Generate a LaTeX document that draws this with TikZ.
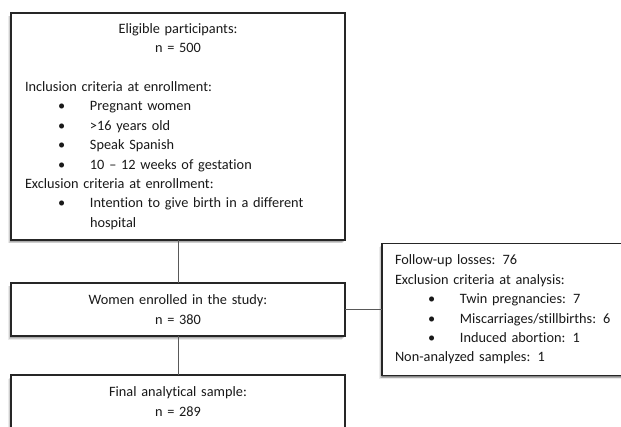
\documentclass[tikz,border=0pt]{standalone}
\usepackage{fontspec}
\setmainfont{Carlito}[Ligatures=NoCommon]
\usetikzlibrary{positioning,shadows}
\newcommand{\bulitem}[1]{\hspace*{33pt}\makebox[32pt][l]{\textbullet}#1}
\newcommand{\midline}[1]{\makebox[\linewidth][c]{#1}}
\tikzset{
    flow box/.style = {
        draw = black!85,
        line width = 1.5pt,
        fill = white,
        outer sep = 0pt,
        inner xsep = 14pt,
        text = black!90,
        font = \fontsize{14.3}{19.4}\selectfont,
        drop shadow = {shadow xshift=-3.5pt, shadow yshift=-3.5pt, fill=black, opacity=0.08},
        drop shadow = {shadow xshift=-2.5pt, shadow yshift=-2.8pt, fill=black, opacity=0.12},
        drop shadow = {shadow xshift=-1.5pt, shadow yshift=-2pt, fill=black, opacity=0.16},
        drop shadow = {shadow xshift=-0.5pt, shadow yshift=-1.2pt, fill=black, opacity=0.22},
        },
    centre box/.style = {
        flow box,
        minimum width = 334pt,
        text width = 306pt,
        align = center,
        },
    list box/.style = {
        flow box,
        inner xsep = 13pt,
        text width = 222pt,
        align = left,
        },
    link/.style = {
        draw = black!65,
        line width = 0.8pt,
        },
}

\begin{document}
\begin{tikzpicture}[x=1pt, y=1pt]
            \useasboundingbox (0,0) rectangle (621,426);

            \node[centre box, align=left, minimum height=227pt] (eligible) at (178,299.5) {%
                \midline{Eligible participants:}\\
                \midline{n = 500}\\[19.4pt]
                Inclusion criteria at enrollment:\\
                \bulitem{Pregnant women}\\
                \bulitem{>16 years old}\\
                \bulitem{Speak Spanish}\\
                \bulitem{10 -- 12 weeks of gestation}\\
                Exclusion criteria at enrollment:\\
                \bulitem{Intention to give birth in a different}\\
                \hspace*{65pt}hospital};
            \node[centre box, minimum height=53pt, below=43pt of eligible] (enrolled) {Women enrolled in the study:\\ n = 380};
            \node[centre box, minimum height=53pt, below=39pt of enrolled] (final) {Final analytical sample:\\ n = 289};
            \node[list box, minimum width=238pt, minimum height=132pt, right=37pt of enrolled] (losses) {%
                Follow-up losses: 76\\
                Exclusion criteria at analysis:\\
                \bulitem{Twin pregnancies: 7}\\
                \bulitem{Miscarriages/stillbirths: 6}\\
                \bulitem{Induced abortion: 1}\\
                Non-analyzed samples: 1};

            % connectors
            \path[link] (eligible) -- (enrolled);
            \path[link] (enrolled) -- (final);
            \path[link] (enrolled) -- (losses);
        \end{tikzpicture}
\end{document}
